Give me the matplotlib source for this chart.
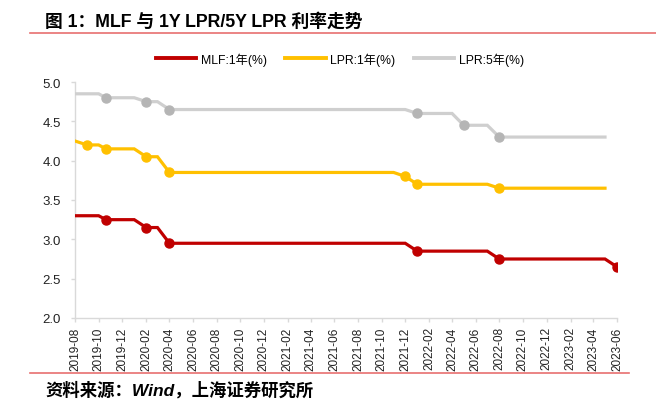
import matplotlib
matplotlib.use('Agg')
import matplotlib.pyplot as plt
import matplotlib.dates as mdates
import numpy as np
from matplotlib.lines import Line2D

plt.rcParams['font.family'] = ['Liberation Sans', 'Noto Sans CJK SC', 'DejaVu Sans']

# vertices of each series (date, rate %)
mlf_dates = ['2019-08-01', '2019-10-01', '2019-10-20', '2020-01-01', '2020-02-01',
             '2020-03-01', '2020-04-01', '2021-12-01', '2022-01-01', '2022-07-01',
             '2022-08-01', '2023-05-01', '2023-06-01']
mlf_vals = [3.30, 3.30, 3.25, 3.25, 3.15, 3.15, 2.95, 2.95, 2.85, 2.85, 2.75, 2.75, 2.65]

lpr1_dates = ['2019-08-01', '2019-09-01', '2019-10-01', '2019-10-20', '2020-01-01',
              '2020-02-01', '2020-03-01', '2020-04-01', '2021-11-01', '2021-12-01',
              '2022-01-01', '2022-07-01', '2022-08-01', '2023-05-01']
lpr1_vals = [4.25, 4.20, 4.20, 4.15, 4.15, 4.05, 4.05, 3.85, 3.85, 3.80, 3.70, 3.70, 3.65, 3.65]

lpr5_dates = ['2019-08-01', '2019-10-01', '2019-10-20', '2020-01-01', '2020-02-01',
              '2020-03-01', '2020-04-01', '2021-12-01', '2022-01-01', '2022-04-01',
              '2022-05-01', '2022-07-01', '2022-08-01', '2023-05-01']
lpr5_vals = [4.85, 4.85, 4.80, 4.80, 4.75, 4.75, 4.65, 4.65, 4.60, 4.60, 4.45, 4.45, 4.30, 4.30]

labels = ['MLF:1年(%)', 'LPR:1年(%)', 'LPR:5年(%)']
line_colors = ['#C00000', '#FFC000', '#CFCFCF']
marker_colors = ['#C00000', '#FFC000', '#B5B5B5']

title = '图 1：MLF 与 1Y LPR/5Y LPR 利率走势'
source = '资料来源：Wind，上海证券研究所'

fig = plt.figure(figsize=(6.56, 4.14), dpi=100)
ax = fig.add_axes([75/656, 1-319/414, 542/656, 236/414])

series = [(mlf_dates, mlf_vals), (lpr1_dates, lpr1_vals), (lpr5_dates, lpr5_vals)]
for (d, v), lc, mc in zip(series, line_colors, marker_colors):
    d = np.array(d, dtype='datetime64[D]')
    v = np.array(v)
    ax.plot(d, v, color=lc, lw=2.3, solid_joinstyle='miter', zorder=3)
    # markers only where the rate changes
    chg = np.r_[False, np.diff(v) != 0]
    ax.plot(d[chg], v[chg], 'o', color=mc, ms=6.5, zorder=4)

ax.set_xlim(np.datetime64('2019-08-01'), np.datetime64('2023-06-01'))
ax.set_ylim(2.0, 5.0)
ax.set_yticks(np.arange(2.0, 5.01, 0.5))
ax.yaxis.set_major_formatter(plt.FormatStrFormatter('%.1f'))
ax.xaxis.set_major_locator(mdates.MonthLocator(bymonth=(2, 4, 6, 8, 10, 12)))
ax.xaxis.set_major_formatter(mdates.DateFormatter('%Y-%m'))
plt.setp(ax.get_xticklabels(), rotation=90)

for s in ['top', 'right']:
    ax.spines[s].set_visible(False)
for s in ['left', 'bottom']:
    ax.spines[s].set_color('#D9D9D9')
    ax.spines[s].set_linewidth(1.0)
ax.tick_params(axis='both', colors='#D9D9D9', labelcolor='#222222', length=3, width=1)
ax.tick_params(axis='y', labelsize=9.5, pad=7)
ax.tick_params(axis='x', labelsize=8.5, pad=3)

handles = [Line2D([], [], color=c, lw=2.8) for c in line_colors]
fig.legend(handles, labels, loc='center', bbox_to_anchor=(340/656, 1-60/414), ncol=3,
           frameon=False, fontsize=8.8, handlelength=3.3, columnspacing=1.5, handletextpad=0.4)

fig.text(45/656, 1-22/414, title, fontsize=12.8, fontweight='bold', va='center', ha='left')
fig.add_artist(Line2D([30/656, 1.0], [1-34/414, 1-34/414], color='#E87070', lw=1.2))
fig.add_artist(Line2D([30/656, 629/656], [1-374/414, 1-374/414], color='#E87070', lw=1.2))
fig.text(45/656, 1-390/414, source, fontsize=12.5, fontweight='bold', style='italic',
         va='center', ha='left')

fig.savefig('out.png', dpi=100)
